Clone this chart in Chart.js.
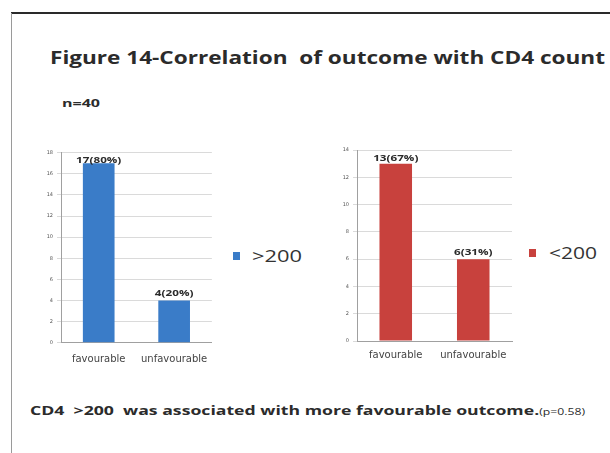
<!DOCTYPE html>
<html>
<head>
<meta charset="utf-8">
<script src="https://cdn.jsdelivr.net/npm/chart.js@4/dist/chart.umd.min.js"></script>
<style>
  html, body { margin: 0; padding: 0; background: #fff; }
  #page { position: relative; width: 610px; height: 453px; overflow: hidden; background: #fff; font-family: "Open Sans", sans-serif; }
  .frameTop { position: absolute; left: 11px; top: 12px; width: 599px; height: 2px; background: #2a2a2a; }
  .frameLeft { position: absolute; left: 11px; top: 13px; width: 1px; height: 440px; background: #9a9a9a; }
  .txt { position: absolute; white-space: nowrap; transform-origin: 0 50%; color: #2b2b2b; }
  .swatch { position: absolute; width: 7px; height: 8px; }
  canvas { position: absolute; }
</style>
</head>
<body>
<div id="page">
  <div class="frameTop"></div>
  <div class="frameLeft"></div>

  <div class="txt" data-w="555" style="left:50px; top:46px; font-size:18px; line-height:22px; font-weight:700;">Figure 14-Correlation&nbsp; of outcome with CD4 count</div>
  <div class="txt" data-w="38" style="left:62px; top:96px; font-size:10px; line-height:14px; font-weight:700;">n=40</div>

  <canvas id="chartAbove" width="190" height="230" style="left:30px; top:140px;"></canvas>
  <canvas id="chartBelow" width="200" height="230" style="left:320px; top:140px;"></canvas>

  <div class="swatch" id="swAbove" style="left:233px; top:252px;"></div>
  <div class="txt" id="lgAbove" data-w="50" style="left:252px; top:245px; font-size:16px; line-height:22px; color:#333;"></div>
  <div class="swatch" id="swBelow" style="left:529px; top:249px;"></div>
  <div class="txt" id="lgBelow" data-w="48" style="left:549px; top:242px; font-size:16px; line-height:22px; color:#333;"></div>

  <div class="txt" data-w="555" style="left:30px; top:400px; font-size:13px; line-height:20px; font-weight:700;">CD4&nbsp; &gt;200&nbsp; was associated with more favourable outcome.<span style="font-weight:400; font-size:9px;">(p=0.58)</span></div>
</div>

<script>
// Outcome categories on the x axis
const categories = ['favourable', 'unfavourable'];

// CD4 > 200 group
const above200Label = '>200';
const above200Counts = [17, 4];
const above200Percent = [80, 20];
const above200AxisMax = 18;

// CD4 < 200 group
const below200Label = '<200';
const below200Counts = [13, 6];
const below200Percent = [67, 31];
const below200AxisMax = 14;

const tickStep = 2;

const blue = '#3a7cc8';
const red = '#c8413d';

// Writes "count(percent%)" above each bar
const valueLabels = {
  id: 'valueLabels',
  afterDatasetsDraw(chart, args, opts) {
    const ctx = chart.ctx;
    const meta = chart.getDatasetMeta(0);
    const ds = chart.data.datasets[0];
    ctx.save();
    ctx.font = '700 9px "Open Sans", sans-serif';
    ctx.fillStyle = '#2b2b2b';
    ctx.textAlign = 'center';
    ctx.textBaseline = 'middle';
    meta.data.forEach((bar, i) => {
      const text = ds.data[i] + '(' + opts.percents[i] + '%)';
      const y = Math.max(bar.y - 7, chart.chartArea.top + 8);
      ctx.save();
      ctx.translate(bar.x, y);
      ctx.scale(1.3, 1);
      ctx.fillText(text, 0, 0);
      ctx.restore();
    });
    ctx.restore();
  }
};

function makeChart(id, label, counts, percents, color, axisMax, geo) {
  return new Chart(document.getElementById(id), {
    type: 'bar',
    data: {
      labels: categories,
      datasets: [{
        label: label,
        data: counts,
        backgroundColor: color,
        borderWidth: 0,
        barPercentage: 0.42,
        categoryPercentage: 1.0
      }]
    },
    options: {
      responsive: false,
      animation: false,
      devicePixelRatio: 1,
      layout: { padding: { top: geo.top, right: geo.right, left: 0, bottom: 0 } },
      plugins: {
        legend: { display: false },
        tooltip: { enabled: false },
        valueLabels: { percents: percents }
      },
      scales: {
        x: {
          grid: { display: false, drawTicks: false },
          border: { color: '#a0a0a0', width: 1 },
          ticks: { font: { family: 'DejaVu Sans', size: 10 }, color: '#444', padding: geo.xPad },
          afterFit(s) { s.height = geo.xHeight; }
        },
        y: {
          min: 0,
          max: axisMax,
          ticks: { stepSize: tickStep, font: { family: 'DejaVu Sans', size: 5 }, color: '#555', padding: 4 },
          grid: { color: '#dadada', tickLength: 4 },
          border: { color: '#a0a0a0', width: 1 },
          afterFit(s) { s.width = geo.yWidth; }
        }
      }
    },
    plugins: [valueLabels]
  });
}

makeChart('chartAbove', above200Label, above200Counts, above200Percent, blue, above200AxisMax,
  { top: 12.7, right: 7, yWidth: 31, xHeight: 27.3, xPad: 11 });
makeChart('chartBelow', below200Label, below200Counts, below200Percent, red, below200AxisMax,
  { top: 10, right: 8, yWidth: 37, xHeight: 29, xPad: 8 });

// Legends beside each chart
document.getElementById('swAbove').style.background = blue;
document.getElementById('swBelow').style.background = red;
document.getElementById('lgAbove').textContent = above200Label;
document.getElementById('lgBelow').textContent = below200Label;

// Stretch text runs to their set widths
document.querySelectorAll('.txt[data-w]').forEach(el => {
  const target = parseFloat(el.dataset.w);
  const w = el.getBoundingClientRect().width;
  if (w > 0) el.style.transform = 'scaleX(' + (target / w) + ')';
});
</script>
</body>
</html>
